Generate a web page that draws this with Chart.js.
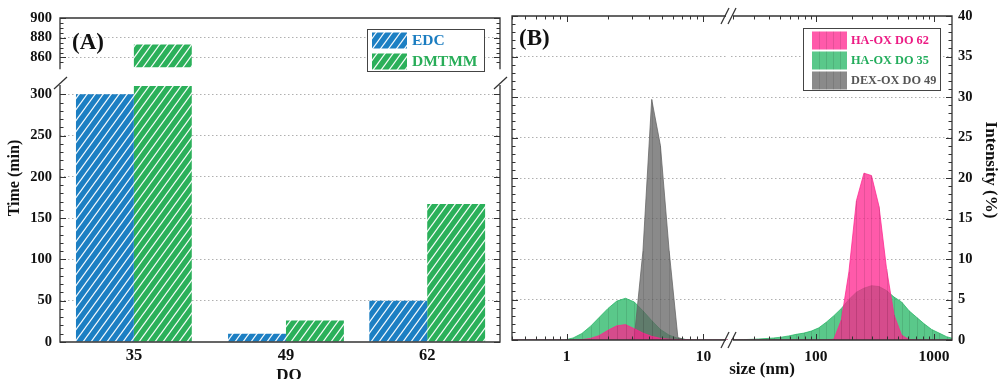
<!DOCTYPE html>
<html>
<head>
<meta charset="utf-8">
<script src="https://cdn.jsdelivr.net/npm/chart.js@4.4.1/dist/chart.umd.min.js"></script>
<style>
  html, body { margin: 0; padding: 0; background: #fff; }
  #wrap { position: relative; width: 998px; height: 379px; overflow: hidden; }
  canvas { position: absolute; }
</style>
</head>
<body>
<div id="wrap">
  <canvas id="timeTop"></canvas>
  <canvas id="timeLow"></canvas>
  <canvas id="sizeSmall"></canvas>
  <canvas id="sizeLarge"></canvas>
</div>
<script>
// ---- panel A : gelation time vs degree of oxidation ----
const doLevels = [35, 49, 62];
const edcTime = [300, 10, 50];
const dmtmmTime = [873, 26, 167];
const timeTicksLow = [0, 50, 100, 150, 200, 250, 300];
const timeTicksHigh = [860, 880, 900];

// ---- panel B : DLS intensity distributions ----
const sizeNm = [0.4, 0.4632, 0.5365, 0.6213, 0.7195, 0.8332, 0.9649, 1.117, 1.294, 1.499,
  1.736, 2.01, 2.328, 2.696, 3.122, 3.615, 4.187, 4.849, 5.615, 6.503,
  7.531, 8.721, 10.1, 11.7, 13.54, 15.69, 18.17, 21.04, 24.36, 28.21,
  32.67, 37.84, 43.82, 50.75, 58.77, 68.06, 78.82, 91.28, 105.7, 122.4,
  141.8, 164.2, 190.1, 220.2, 255, 295.3, 342, 396.1, 458.7, 531.2,
  615.1, 712.4, 825, 955.4, 1106, 1281, 1484];
const haox62 = [0, 0, 0, 0, 0, 0, 0, 0, 0.05, 0.2,
  0.55, 1.2, 1.75, 1.9, 1.4, 0.85, 0.45, 0.2, 0.1, 0.06,
  0.03, 0, 0, 0, 0, 0, 0, 0, 0, 0,
  0, 0, 0, 0, 0, 0, 0, 0, 0, 0,
  0.1, 2.5, 8.4, 17.2, 20.6, 20.3, 16.5, 8.8, 3.1, 0.6,
  0.05, 0, 0, 0, 0, 0, 0];
const haox35 = [0, 0, 0, 0, 0, 0, 0, 0.25, 0.8, 1.7,
  2.8, 3.9, 4.8, 5.15, 4.7, 3.6, 2.4, 1.3, 0.6, 0.2,
  0.05, 0, 0, 0, 0, 0, 0, 0.02, 0.05, 0.08,
  0.12, 0.18, 0.25, 0.35, 0.5, 0.7, 0.85, 1.1, 1.5, 2.2,
  3.0, 3.9, 5.0, 5.9, 6.4, 6.7, 6.6, 6.1, 5.3, 4.7,
  3.6, 2.8, 2.0, 1.3, 0.85, 0.4, 0.15];
const dexox49 = [0, 0, 0, 0, 0, 0, 0, 0, 0, 0,
  0, 0, 0, 0, 0.2, 11, 29.7, 24, 11, 0.3,
  0, 0, 0, 0, 0, 0, 0, 0, 0, 0,
  0, 0, 0, 0, 0, 0, 0, 0, 0, 0,
  0, 0, 0, 0, 0, 0, 0, 0, 0, 0,
  0, 0, 0, 0, 0, 0, 0];
const intensityTicks = [0, 5, 10, 15, 20, 25, 30, 35, 40];
const sizeTicksSmall = [1, 10];
const sizeTicksLarge = [100, 1000];

const SERIF = "'Liberation Serif', 'Times New Roman', Times, serif";
const BLUE = "#1c7fc3";
const GREEN = "#2bb05a";

Chart.defaults.font.family = SERIF;
Chart.defaults.font.weight = "bold";
Chart.defaults.color = "#111";

function place(id, left, top, w, h) {
  const c = document.getElementById(id);
  c.width = w;
  c.height = h;
  c.style.left = left + "px";
  c.style.top = top + "px";
  return c;
}

const topCanvas = place("timeTop", 0, 0, 508, 84);
const lowCanvas = place("timeLow", 0, 60, 508, 319);
const smallCanvas = place("sizeSmall", 500, 0, 231, 379);
const largeCanvas = place("sizeLarge", 715, 0, 283, 379);

// diagonal white hatch on a coloured ground
function hatchPattern(canvas, color) {
  const tile = document.createElement("canvas");
  tile.width = 8;
  tile.height = 11;
  const g = tile.getContext("2d");
  g.fillStyle = color;
  g.fillRect(0, 0, 8, 11);
  g.strokeStyle = "rgba(255,255,255,0.95)";
  g.lineWidth = 1.3;
  g.beginPath();
  [-8, 0, 8].forEach((dx) => {
    g.moveTo(dx - 1, 11 + 11 / 8);
    g.lineTo(dx + 9, -11 / 8);
  });
  g.stroke();
  return canvas.getContext("2d").createPattern(tile, "repeat");
}

function text(ctx, str, x, y, size, color, align, rot) {
  ctx.save();
  ctx.translate(x, y);
  if (rot) ctx.rotate(rot);
  ctx.font = `bold ${size}px ${SERIF}`;
  ctx.fillStyle = color;
  ctx.textAlign = align || "center";
  ctx.textBaseline = "middle";
  ctx.fillText(str, 0, 0);
  ctx.restore();
}

function yTickMarks(ctx, scale, x, dir, from, to, step, majorEvery) {
  ctx.beginPath();
  for (let v = from; v <= to + 1e-9; v += step) {
    const y = Math.round(scale.getPixelForValue(v)) + 0.5;
    const len = Math.abs(v % majorEvery) < 1e-6 ? 6 : 3.5;
    ctx.moveTo(x, y);
    ctx.lineTo(x + dir * len, y);
  }
  ctx.stroke();
}

function logTickMarks(ctx, scale, y, dir) {
  ctx.beginPath();
  const e0 = Math.floor(Math.log10(scale.min));
  const e1 = Math.ceil(Math.log10(scale.max));
  for (let e = e0; e <= e1; e++) {
    for (let m = 1; m <= 9; m++) {
      const v = m * Math.pow(10, e);
      if (v < scale.min * 0.999 || v > scale.max) continue;
      const x = Math.round(scale.getPixelForValue(v)) + 0.5;
      ctx.moveTo(x, y);
      ctx.lineTo(x, y + dir * (m === 1 ? 6 : 3.5));
    }
  }
  ctx.stroke();
}

function slash(ctx, x1, y1, x2, y2) {
  ctx.beginPath();
  ctx.moveTo(x1, y1);
  ctx.lineTo(x2, y2);
  ctx.stroke();
}

// ---------------- panel A ----------------
function timeDatasets(canvas) {
  return [
    {
      label: "EDC",
      data: doLevels.map((d, i) => ({ x: d, y: edcTime[i] })),
      backgroundColor: hatchPattern(canvas, BLUE),
      clip: 0,
    },
    {
      label: "DMTMM",
      data: doLevels.map((d, i) => ({ x: d, y: dmtmmTime[i] })),
      backgroundColor: hatchPattern(canvas, GREEN),
      clip: 0,
    },
  ];
}
const timeLegendColors = ["#1a7cc0", "#28ad58"];

function doAxis(show) {
  return {
    type: "linear",
    min: 28.2,
    max: 68.7,
    offset: false,
    display: show,
    afterBuildTicks: (s) => { s.ticks = doLevels.map((v) => ({ value: v })); },
    afterFit: (s) => { s.height = show ? 37 : 0; },
    grid: { display: false, drawTicks: false },
    border: { display: false },
    ticks: { font: { size: 16.5 }, padding: 4, maxRotation: 0, autoSkip: false },
  };
}

function timeAxis(min, max, ticks, hidden) {
  return {
    min,
    max,
    afterBuildTicks: (s) => { s.ticks = ticks.map((v) => ({ value: v })); },
    afterFit: (s) => { s.width = 60; },
    grid: {
      drawTicks: false,
      color: (c) => (hidden.includes(c.tick.value) ? "transparent" : "#b0b0b0"),
    },
    border: { display: false, dash: [1.5, 2.5] },
    ticks: { font: { size: 14.5 }, padding: 8 },
  };
}

const barOptions = { categoryPercentage: 0.82, barPercentage: 1.0 };

const timeTopFrame = {
  id: "timeTopFrame",
  afterDraw(chart) {
    const { ctx, chartArea: a, scales } = chart;
    ctx.save();
    ctx.strokeStyle = "#333";
    ctx.lineWidth = 1.3;
    ctx.beginPath();
    ctx.moveTo(a.left, a.bottom + 2);
    ctx.lineTo(a.left, a.top);
    ctx.lineTo(a.right, a.top);
    ctx.lineTo(a.right, a.bottom + 2);
    ctx.stroke();
    ctx.lineWidth = 1;
    yTickMarks(ctx, scales.y, a.left, 1, 855, 900, 5, 20);
    yTickMarks(ctx, scales.y, a.right, -1, 855, 900, 5, 20);

    text(ctx, "(A)", 72, 43, 23, "#111", "left");

    // legend
    ctx.fillStyle = "#fff";
    ctx.fillRect(367, 29.5, 117, 42);
    ctx.strokeStyle = "#444";
    ctx.strokeRect(367.5, 29.5, 117, 42);
    chart.data.datasets.forEach((ds, i) => {
      const y = 32.5 + i * 21;
      ctx.fillStyle = ds.backgroundColor;
      ctx.fillRect(372, y, 35, 16);
      text(ctx, ds.label, 412, y + 8.5, 15.5, timeLegendColors[i], "left");
    });
    ctx.restore();
  },
};

const timeLowFrame = {
  id: "timeLowFrame",
  afterDraw(chart) {
    const { ctx, chartArea: a, scales } = chart;
    ctx.save();
    ctx.strokeStyle = "#333";
    ctx.lineWidth = 1.3;
    ctx.beginPath();
    ctx.moveTo(a.left, a.top - 1);
    ctx.lineTo(a.left, a.bottom);
    ctx.lineTo(a.right, a.bottom);
    ctx.lineTo(a.right, a.top - 1);
    ctx.stroke();
    // axis break marks
    slash(ctx, 54, 29, 67, 17);
    slash(ctx, 494, 29, 507, 17);
    ctx.lineWidth = 1;
    yTickMarks(ctx, scales.y, a.left, 1, 0, 300, 10, 50);
    yTickMarks(ctx, scales.y, a.right, -1, 0, 300, 10, 50);

    text(ctx, "Time (min)", 15, 118, 16, "#111", "center", -Math.PI / 2);
    text(ctx, "DO", 289, 316, 17, "#111", "center");
    ctx.restore();
  },
};

new Chart(topCanvas, {
  type: "bar",
  data: { datasets: timeDatasets(topCanvas) },
  options: {
    responsive: false,
    animation: false,
    devicePixelRatio: 1,
    datasets: { bar: barOptions },
    layout: { padding: { top: 18, bottom: 4, left: 0, right: 8 } },
    scales: { x: doAxis(false), y: timeAxis(850, 900, timeTicksHigh, [900]) },
    plugins: { legend: { display: false }, tooltip: { enabled: false } },
  },
  plugins: [timeTopFrame],
});

new Chart(lowCanvas, {
  type: "bar",
  data: { datasets: timeDatasets(lowCanvas) },
  options: {
    responsive: false,
    animation: false,
    devicePixelRatio: 1,
    datasets: { bar: barOptions },
    layout: { padding: { top: 26, bottom: 0, left: 0, right: 8 } },
    scales: { x: doAxis(true), y: timeAxis(0, 310, timeTicksLow, [0]) },
    plugins: { legend: { display: false }, tooltip: { enabled: false } },
  },
  plugins: [timeLowFrame],
});

// ---------------- panel B ----------------
const sizeSeries = [
  { label: "HA-OX DO 62", values: haox62, fill: "rgba(255,35,142,0.75)", legendText: "#ec1b84", order: 0 },
  { label: "HA-OX DO 35", values: haox35, fill: "rgba(35,182,99,0.75)", legendText: "#22ad5c", order: 2 },
  { label: "DEX-OX DO 49", values: dexox49, fill: "rgba(99,99,99,0.75)", legendText: "#555", order: 1 },
];

function sizeDatasets() {
  return sizeSeries.map((s) => ({
    label: s.label,
    data: sizeNm.map((x, i) => ({ x, y: s.values[i] })),
    backgroundColor: s.fill,
    borderColor: s.fill,
    borderWidth: 1,
    pointRadius: 0,
    tension: 0,
    fill: "origin",
    order: s.order,
    clip: 0,
  }));
}

function sizeAxis(min, max, ticks) {
  return {
    type: "logarithmic",
    min,
    max,
    afterBuildTicks: (s) => { s.ticks = ticks.map((v) => ({ value: v })); },
    afterFit: (s) => { s.height = 39; },
    grid: { display: false, drawTicks: false },
    border: { display: false },
    ticks: { font: { size: 15.5 }, padding: 8, maxRotation: 0, autoSkip: false, callback: (v) => String(v) },
  };
}

function intensityAxis(position, showLabels, width) {
  return {
    position,
    min: 0,
    max: 40,
    afterBuildTicks: (s) => { s.ticks = intensityTicks.map((v) => ({ value: v })); },
    afterFit: (s) => { s.width = width; },
    grid: {
      drawTicks: false,
      color: (c) => (c.tick.value === 0 || c.tick.value === 40 ? "transparent" : "#b0b0b0"),
    },
    border: { display: false, dash: [1.5, 2.5] },
    ticks: { display: showLabels, font: { size: 14.5 }, padding: 6 },
  };
}

// thin vertical lines inside each filled distribution
const dropLines = {
  id: "dropLines",
  afterDatasetDraw(chart, args) {
    const { ctx, chartArea: a, scales } = chart;
    const values = chart.data.datasets[args.index].data;
    const y0 = scales.y.getPixelForValue(0);
    ctx.save();
    ctx.beginPath();
    ctx.rect(a.left, a.top, a.right - a.left, a.bottom - a.top);
    ctx.clip();
    ctx.strokeStyle = "rgba(0,0,0,0.1)";
    ctx.lineWidth = 1;
    ctx.beginPath();
    args.meta.data.forEach((pt, i) => {
      if (values[i].y <= 0) return;
      const x = Math.round(pt.x) + 0.5;
      ctx.moveTo(x, pt.y);
      ctx.lineTo(x, y0);
    });
    ctx.stroke();
    ctx.restore();
  },
};

const sizeSmallFrame = {
  id: "sizeSmallFrame",
  afterDraw(chart) {
    const { ctx, chartArea: a, scales } = chart;
    ctx.save();
    ctx.strokeStyle = "#333";
    ctx.lineWidth = 1.3;
    ctx.beginPath();
    ctx.moveTo(a.right - 2, a.top);
    ctx.lineTo(a.left, a.top);
    ctx.lineTo(a.left, a.bottom);
    ctx.lineTo(a.right - 2, a.bottom);
    ctx.stroke();
    ctx.lineWidth = 1;
    yTickMarks(ctx, scales.y, a.left, 1, 0, 40, 1, 5);
    logTickMarks(ctx, scales.x, a.top, 1);
    logTickMarks(ctx, scales.x, a.bottom, -1);
    text(ctx, "(B)", 19, 39, 23, "#111", "left");
    ctx.restore();
  },
};

const sizeLargeFrame = {
  id: "sizeLargeFrame",
  afterDraw(chart) {
    const { ctx, chartArea: a, scales } = chart;
    ctx.save();
    ctx.strokeStyle = "#333";
    ctx.lineWidth = 1.3;
    ctx.beginPath();
    ctx.moveTo(a.left + 2, a.top);
    ctx.lineTo(a.right, a.top);
    ctx.lineTo(a.right, a.bottom);
    ctx.lineTo(a.left + 2, a.bottom);
    ctx.stroke();
    // x-axis break marks
    slash(ctx, 6, a.bottom + 8, 14, a.bottom - 8);
    slash(ctx, 13, a.bottom + 8, 21, a.bottom - 8);
    slash(ctx, 6, a.top + 8, 14, a.top - 8);
    slash(ctx, 13, a.top + 8, 21, a.top - 8);
    ctx.lineWidth = 1;
    yTickMarks(ctx, scales.y, a.right, -1, 0, 40, 1, 5);
    logTickMarks(ctx, scales.x, a.top, 1);
    logTickMarks(ctx, scales.x, a.bottom, -1);

    text(ctx, "size (nm)", 47, 370, 17, "#111", "center");
    text(ctx, "Intensity (%)", 275, 170, 17, "#111", "center", Math.PI / 2);

    // legend
    ctx.fillStyle = "#fff";
    ctx.fillRect(88, 28.5, 137, 62);
    ctx.strokeStyle = "#444";
    ctx.strokeRect(88.5, 28.5, 137, 62);
    chart.data.datasets.forEach((ds, i) => {
      const y = 31.5 + i * 20;
      ctx.fillStyle = ds.backgroundColor;
      ctx.fillRect(97, y, 35, 18);
      ctx.strokeStyle = "rgba(0,0,0,0.1)";
      ctx.beginPath();
      for (let x = 104.5; x < 132; x += 7) {
        ctx.moveTo(x, y);
        ctx.lineTo(x, y + 18);
      }
      ctx.stroke();
      text(ctx, ds.label, 136, y + 9.5, 12.3, sizeSeries[i].legendText, "left");
    });
    ctx.restore();
  },
};

new Chart(smallCanvas, {
  type: "line",
  data: { datasets: sizeDatasets() },
  options: {
    responsive: false,
    animation: false,
    devicePixelRatio: 1,
    layout: { padding: { top: 16, bottom: 0, left: 0, right: 3 } },
    scales: { x: sizeAxis(0.4, 15.1, sizeTicksSmall), y: intensityAxis("left", false, 12) },
    plugins: { legend: { display: false }, tooltip: { enabled: false } },
  },
  plugins: [dropLines, sizeSmallFrame],
});

new Chart(largeCanvas, {
  type: "line",
  data: { datasets: sizeDatasets() },
  options: {
    responsive: false,
    animation: false,
    devicePixelRatio: 1,
    layout: { padding: { top: 16, bottom: 0, left: 16, right: 0 } },
    scales: { x: sizeAxis(19.05, 1421, sizeTicksLarge), y: intensityAxis("right", true, 46) },
    plugins: { legend: { display: false }, tooltip: { enabled: false } },
  },
  plugins: [dropLines, sizeLargeFrame],
});
</script>
</body>
</html>
